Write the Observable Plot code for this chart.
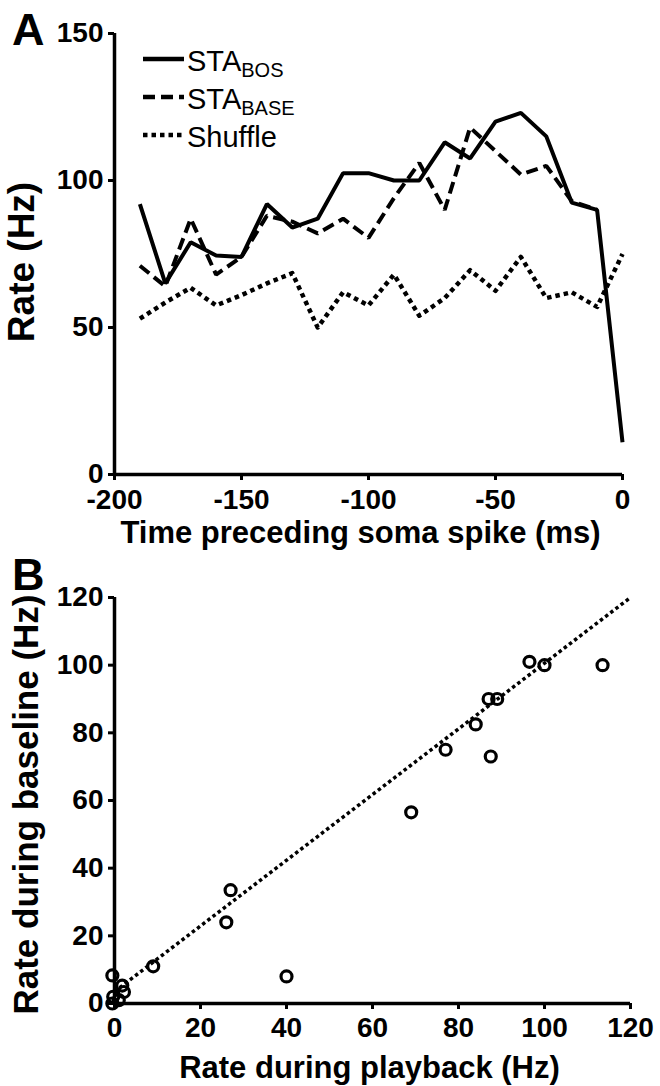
<!DOCTYPE html>
<html><head><meta charset="utf-8">
<script src="https://cdn.jsdelivr.net/npm/d3@7"></script>
<script src="https://cdn.jsdelivr.net/npm/@observablehq/plot@0.6"></script>
<style>
body{margin:0;background:#fff;}
#root{width:660px;}
#root svg{display:block;}
</style></head><body><div id="root"></div>
<script>
// ---- Panel A data ----
const timeA = [-190,-180,-170,-160,-150,-140,-130,-120,-110,-100,-90,-80,-70,-60,-50,-40,-30,-20,-10,0];
const staBos = [92,65,79,74.5,74,92,84,87,102.5,102.5,100,100,113,107.5,120,123,115,92.5,90,11];
const timeBase = [-190,-180,-170,-160,-150,-140,-130,-120,-110,-100,-90,-80,-70,-60,-50,-40,-30,-20,-10];
const staBase = [71,64,87,68,74,88,86,82,87,80.5,94,106,90,118,110,102,105,93,90];
const shuffle = [53,58.5,63.5,57.5,61,65,68.5,50,62,57.5,68,54,60,69.5,62.5,74,60,62,57,75];
const ticksXA = [-200,-150,-100,-50,0];
const ticksYA = [0,50,100,150];

// ---- Panel B data ----
const playback = [-0.5,-0.3,-0.5,1.8,2.2,1,9,26,27,40,69,77,84,87.5,87,89,96.5,100,113.5];
const baseline = [8.3,2,0,5.3,3.4,1,11,24,33.5,8,56.5,75,82.5,73,90,90,101,100,100];
const fitX = [0,120];
const fitY = [3.5,120];
const ticksB = [0,20,40,60,80,100,120];

const FONT = "'Liberation Sans', Arial, Helvetica, sans-serif";

const bosRows = timeA.map((t,i)=>({t, v: staBos[i]}));
const baseRows = timeBase.map((t,i)=>({t, v: staBase[i]}));
const shufRows = timeA.map((t,i)=>({t, v: shuffle[i]}));

const plotA = Plot.plot({
  width: 660, height: 550,
  marginLeft: 114, marginRight: 38, marginTop: 33, marginBottom: 76,
  x: {domain: [-200, 0]},
  y: {domain: [0, 150]},
  style: {fontFamily: FONT, fontWeight: "bold", background: "white", overflow: "visible", color: "black"},
  marks: [
    Plot.line(shufRows, {x: "t", y: "v", stroke: "black", strokeWidth: 4.5, strokeDasharray: "4.5,4", strokeLinecap: "butt"}),
    Plot.line(baseRows, {x: "t", y: "v", stroke: "black", strokeWidth: 4, strokeDasharray: "12,6", strokeLinecap: "butt", strokeLinejoin: "miter"}),
    Plot.line(bosRows, {x: "t", y: "v", stroke: "black", strokeWidth: 4, strokeLinecap: "butt", strokeLinejoin: "miter"}),
    Plot.ruleY([0], {stroke: "black", strokeWidth: 3.5}),
    Plot.ruleX([-200], {stroke: "black", strokeWidth: 3.5}),
    Plot.axisX({ticks: ticksXA, tickSize: 6, tickPadding: 9, strokeWidth: 3, fontSize: 28, fontWeight: "bold", label: null, tickFormat: d => String(d)}),
    Plot.axisY({ticks: ticksYA, tickSize: 6, tickPadding: 5, strokeWidth: 3, fontSize: 28, fontWeight: "bold", label: null, tickFormat: d => String(d)}),
    Plot.text(["Rate (Hz)"], {frameAnchor: "left", textAnchor: "middle", lineAnchor: "middle", rotate: -90, dx: -92, dy: 8, fontSize: 37, fontWeight: "bold"}),
    Plot.text(["Time preceding soma spike (ms)"], {frameAnchor: "bottom", textAnchor: "middle", lineAnchor: "middle", dx: -8, dy: 59, fontSize: 31, fontWeight: "bold"})
  ]
});

// legend and panel letter for A
{
  const s = d3.select(plotA);
  s.append("text").attr("x", 12).attr("y", 45).attr("text-anchor", "start").attr("font-size", 45).attr("font-weight", "bold").attr("font-family", FONT).text("A");
  const g = s.append("g").attr("font-family", FONT).attr("font-weight", "normal").attr("text-anchor", "start");
  const rows = [
    {dash: null, main: "STA", sub: "BOS"},
    {dash: "12,6", main: "STA", sub: "BASE"},
    {dash: "4.5,4", main: "Shuffle", sub: null}
  ];
  rows.forEach((r, i) => {
    const yl = 59 + i * 38;
    g.append("line").attr("x1", 143).attr("x2", 184).attr("y1", yl).attr("y2", yl)
      .attr("stroke", "black").attr("stroke-width", 4.5).attr("stroke-linecap", "butt").attr("stroke-dasharray", r.dash);
    const t = g.append("text").attr("x", 187).attr("y", yl + 12).attr("font-size", 29).attr("text-anchor", "start");
    t.append("tspan").text(r.main);
    if (r.sub) t.append("tspan").attr("font-size", 20).attr("dy", 6).text(r.sub);
  });
}

const rowsB = playback.map((x,i)=>({x, y: baseline[i]}));
const fitRows = fitX.map((x,i)=>({x, y: fitY[i]}));

const plotB = Plot.plot({
  width: 660, height: 536,
  marginLeft: 114, marginRight: 30, marginTop: 47, marginBottom: 83,
  x: {domain: [0, 120]},
  y: {domain: [0, 120]},
  style: {fontFamily: FONT, fontWeight: "bold", background: "white", overflow: "visible", color: "black"},
  marks: [
    Plot.line(fitRows, {x: "x", y: "y", stroke: "black", strokeWidth: 3.5, strokeDasharray: "3.5,3", strokeLinecap: "butt"}),
    Plot.ruleY([0], {stroke: "black", strokeWidth: 3.5}),
    Plot.ruleX([0], {stroke: "black", strokeWidth: 3.5}),
    Plot.dot(rowsB, {x: "x", y: "y", r: 5.5, stroke: "black", strokeWidth: 3.2, fill: "none"}),
    Plot.axisX({ticks: ticksB, tickSize: 6, tickPadding: 8, strokeWidth: 3, fontSize: 28, fontWeight: "bold", label: null, tickFormat: d => String(d)}),
    Plot.axisY({ticks: ticksB, tickSize: 6, tickPadding: 5, strokeWidth: 3, fontSize: 28, fontWeight: "bold", label: null, tickFormat: d => String(d)}),
    Plot.text(["Rate during baseline (Hz)"], {frameAnchor: "left", textAnchor: "middle", lineAnchor: "middle", rotate: -90, dx: -88, dy: 4, fontSize: 35, fontWeight: "bold"}),
    Plot.text(["Rate during playback (Hz)"], {frameAnchor: "bottom", textAnchor: "middle", lineAnchor: "middle", dx: -3, dy: 65, fontSize: 31, fontWeight: "bold"})
  ]
});
d3.select(plotB).append("text").attr("x", 12).attr("y", 40).attr("text-anchor", "start").attr("font-size", 45).attr("font-weight", "bold").attr("font-family", FONT).text("B");

document.getElementById("root").append(plotA, plotB);
</script>
</body></html>
